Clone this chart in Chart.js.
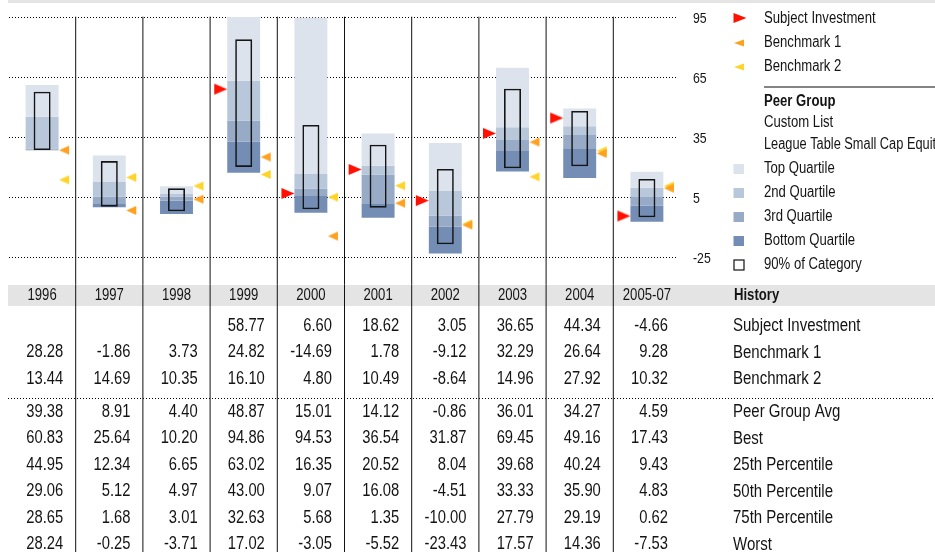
<!DOCTYPE html>
<html><head><meta charset="utf-8">
<script src="https://cdn.jsdelivr.net/npm/chart.js@4.4.1/dist/chart.umd.min.js"></script>
<style>html,body{margin:0;padding:0;background:#fff;overflow:hidden}#wrap{width:935px;height:552px;position:relative}</style>
</head><body><div id="wrap"><canvas id="c" width="935" height="552"></canvas></div>
<script>
// ---------- data ----------
const years = ['1996','1997','1998','1999','2000','2001','2002','2003','2004','2005-07'];
const subject = [null, null, null, 58.77, 6.60, 18.62, 3.05, 36.65, 44.34, -4.66];
const bench1 = [28.28, -1.86, 3.73, 24.82, -14.69, 1.78, -9.12, 32.29, 26.64, 9.28];
const bench2 = [13.44, 14.69, 10.35, 16.10, 4.80, 10.49, -8.64, 14.96, 27.92, 10.32];
const peerAvg = [39.38, 8.91, 4.40, 48.87, 15.01, 14.12, -0.86, 36.01, 34.27, 4.59];
const best = [60.83, 25.64, 10.20, 94.86, 94.53, 36.54, 31.87, 69.45, 49.16, 17.43];
const pct25 = [44.95, 12.34, 6.65, 63.02, 16.35, 20.52, 8.04, 39.68, 40.24, 9.43];
const pct50 = [29.06, 5.12, 4.97, 43.00, 9.07, 16.08, -4.51, 33.33, 35.90, 4.83];
const pct75 = [28.65, 1.68, 3.01, 32.63, 5.68, 1.35, -10.00, 27.79, 29.19, 0.62];
const worst = [28.24, -0.25, -3.71, 17.02, -3.05, -5.52, -23.43, 17.57, 14.36, -7.53];
// 90% of category range
const cat95 = [57.5, 22.8, 9.2, 83.7, 40.9, 31.0, 18.9, 59.0, 47.9, 13.9];
const cat05 = [28.3, 0.0, -2.3, 19.9, -1.3, -0.5, -18.8, 19.2, 20.2, -5.3];
const yTicks = [-25, 5, 35, 65, 95];
const tableLabels = ['Subject Investment','Benchmark 1','Benchmark 2','Peer Group Avg','Best','25th Percentile','50th Percentile','75th Percentile','Worst'];
const tableRows = [subject, bench1, bench2, peerAvg, best, pct25, pct50, pct75, worst];

// ---------- styles ----------
const COL = {top:'#dce3ed', q2:'#b9c7da', q3:'#97abc7', bottom:'#738db4', red:'#ff1000', orange:'#ffa01e', yellow:'#ffd42a', band:'#e4e4e4', text:'#141414'};

function hasFont(f){
  const c = document.createElement('canvas').getContext('2d');
  c.font = '20px monospace'; const a = c.measureText('Subject Investment 0123').width;
  c.font = '20px "' + f + '", monospace'; const b = c.measureText('Subject Investment 0123').width;
  return Math.abs(a - b) > 0.5;
}
const NARROW = hasFont('Liberation Sans Narrow');
const FAM = NARROW ? '"Liberation Sans Narrow", "Liberation Sans", sans-serif' : '"Liberation Sans", Arial, sans-serif';
const SX = NARROW ? 1 : 0.82;

function txt(c, s, x, y, size, o){
  o = o || {};
  c.save();
  c.font = (o.bold ? 'bold ' : '') + size + 'px ' + FAM;
  c.fillStyle = o.color || COL.text;
  c.textBaseline = 'middle';
  c.textAlign = o.align || 'left';
  c.translate(x, y); c.scale(SX, 1); c.fillText(s, 0, 0);
  c.restore();
}

function triCanvas(color, dir, tw, th, gap){
  // canvas whose centre is the bar centre; triangle sits beside the bar
  const W = Math.ceil(2 * (gap + tw) + 2), H = Math.ceil(th + 2);
  const cv = document.createElement('canvas'); cv.width = W; cv.height = H;
  const g = cv.getContext('2d'); g.fillStyle = color;
  const cx = W / 2, cy = H / 2;
  g.beginPath();
  if (dir === 'right') { const tip = cx - gap; g.moveTo(tip - tw, cy - th/2); g.lineTo(tip, cy); g.lineTo(tip - tw, cy + th/2); }
  else { const tip = cx + gap; g.moveTo(tip + tw, cy - th/2); g.lineTo(tip, cy); g.lineTo(tip + tw, cy + th/2); }
  g.closePath(); g.fill();
  return cv;
}
const triRed = triCanvas(COL.red, 'right', 13, 11, 16.5);
const triOrange = triCanvas(COL.orange, 'left', 10, 9, 17);
const triYellow = triCanvas(COL.yellow, 'left', 10, 9, 17);

function legTri(c, x, y, w, h, color, dir){
  c.save(); c.fillStyle = color; c.beginPath();
  if (dir === 'right'){ c.moveTo(x, y - h/2); c.lineTo(x + w, y); c.lineTo(x, y + h/2); }
  else { c.moveTo(x + w, y - h/2); c.lineTo(x, y); c.lineTo(x + w, y + h/2); }
  c.closePath(); c.fill(); c.restore();
}

const decor = {
  id: 'decor',
  beforeDraw(chart){
    const c = chart.ctx, a = chart.chartArea;
    c.save(); c.fillStyle = COL.band;
    c.fillRect(8, 0, 927, 3);
    c.fillRect(8, a.bottom + 28.3, 927, 21);
    c.restore();
  },
  beforeDatasetsDraw(chart){
    const c = chart.ctx, a = chart.chartArea, ys = chart.scales.y;
    c.save(); c.strokeStyle = '#000'; c.lineWidth = 1; c.setLineDash([1, 2]);
    yTicks.forEach(v => {
      const y = Math.round(ys.getPixelForValue(v)) + 0.5;
      c.beginPath(); c.moveTo(Math.round(a.left), y); c.lineTo(Math.round(a.right) - 4, y); c.stroke();
      txt(c, String(v), a.right + 12.5, y + 1, 15);
    });
    c.restore();
  },
  afterDraw(chart){
    const c = chart.ctx, a = chart.chartArea, xs = chart.scales.x;
    const centers = years.map((_, i) => xs.getPixelForValue(i));
    const half = (centers[1] - centers[0]) / 2;
    // vertical separators
    c.save(); c.strokeStyle = '#111'; c.lineWidth = 1;
    for (let i = 0; i < years.length - 1; i++) {
      const x = centers[i] + half;
      c.beginPath(); c.moveTo(x, a.top); c.lineTo(x, 552); c.stroke();
    }
    c.restore();
    // table header
    const hy = a.bottom + 39;
    years.forEach((y, i) => txt(c, y, centers[i], hy, 16, {align:'center'}));
    txt(c, 'History', 734, hy, 16, {bold:true});
    const rowY = [326, 352.5, 379, 412, 438.5, 465, 491.5, 518, 544.5];
    tableRows.forEach((arr, r) => {
      arr.forEach((v, i) => { if (v !== null) txt(c, v.toFixed(2), centers[i] + half - 12.5, rowY[r], 18, {align:'right'}); });
      txt(c, tableLabels[r], 733, rowY[r], 18.3);
    });
    // dotted separator in table
    c.save(); c.strokeStyle = '#000'; c.lineWidth = 1; c.setLineDash([1, 2]);
    c.beginPath(); c.moveTo(8, 398.5); c.lineTo(935, 398.5); c.stroke(); c.restore();
    // legend
    const LX = 764;
    legTri(c, 733.5, 18, 13, 10, COL.red, 'right'); txt(c, 'Subject Investment', LX, 18.5, 16);
    legTri(c, 734, 43, 10, 7, COL.orange, 'left'); txt(c, 'Benchmark 1', LX, 42.5, 16);
    legTri(c, 734, 67, 10, 7, COL.yellow, 'left'); txt(c, 'Benchmark 2', LX, 66.5, 16);
    c.save(); c.fillStyle = '#666'; c.fillRect(LX, 86.2, 171, 1.6); c.restore();
    txt(c, 'Peer Group', LX, 101.5, 16, {bold:true});
    txt(c, 'Custom List', LX, 122.5, 16);
    txt(c, 'League Table Small Cap Equity', LX, 145, 15.6);
    const sq = [['Top Quartile', COL.top, 169], ['2nd Quartile', COL.q2, 193], ['3rd Quartile', COL.q3, 217], ['Bottom Quartile', COL.bottom, 241]];
    sq.forEach(s => { c.save(); c.fillStyle = s[1]; c.fillRect(733.5, s[2] - 5, 10.5, 10); c.restore(); txt(c, s[0], LX, s[2], 16); });
    c.save(); c.strokeStyle = '#111'; c.lineWidth = 1.2; c.strokeRect(734, 260, 10, 10); c.restore();
    txt(c, '90% of Category', LX, 265, 16);
  }
};

const barBase = {categoryPercentage: 1, barPercentage: 0.49, grouped: false, borderWidth: 0, order: 3};
const ctx = document.getElementById('c').getContext('2d');
new Chart(ctx, {
  type: 'bar',
  data: {
    labels: years,
    datasets: [
      {type: 'line', label: 'Subject Investment', data: subject, showLine: false, pointStyle: triRed, pointRadius: 4, order: 0},
      {type: 'line', label: 'Benchmark 1', data: bench1, showLine: false, pointStyle: triOrange, pointRadius: 4, order: 0},
      {type: 'line', label: 'Benchmark 2', data: bench2, showLine: false, pointStyle: triYellow, pointRadius: 4, order: 0},
      {label: '90% of Category', data: cat05.map((v, i) => [v, cat95[i]]), backgroundColor: 'rgba(0,0,0,0)', borderColor: '#151515', borderWidth: 1.6, borderSkipped: false, categoryPercentage: 1, barPercentage: 0.253, grouped: false, order: 1},
      Object.assign({label: 'Top Quartile', data: pct25.map((v, i) => [v, best[i]]), backgroundColor: COL.top}, barBase),
      Object.assign({label: '2nd Quartile', data: pct50.map((v, i) => [v, pct25[i]]), backgroundColor: COL.q2}, barBase),
      Object.assign({label: '3rd Quartile', data: pct75.map((v, i) => [v, pct50[i]]), backgroundColor: COL.q3}, barBase),
      Object.assign({label: 'Bottom Quartile', data: worst.map((v, i) => [v, pct75[i]]), backgroundColor: COL.bottom}, barBase)
    ]
  },
  options: {
    responsive: false, animation: false, devicePixelRatio: 1,
    layout: {padding: {left: 8.5, top: 16.7, right: 0, bottom: 295.3}},
    plugins: {legend: {display: false}, tooltip: {enabled: false}},
    scales: {
      x: {display: false, offset: true},
      y: {
        position: 'right', min: -25, max: 95,
        afterBuildTicks: s => { s.ticks = yTicks.map(v => ({value: v})); },
        afterFit: s => { s.width = 254.5; },
        grid: {display: false},
        border: {display: false},
        ticks: {display: false}
      }
    }
  },
  plugins: [decor]
});
</script></body></html>
